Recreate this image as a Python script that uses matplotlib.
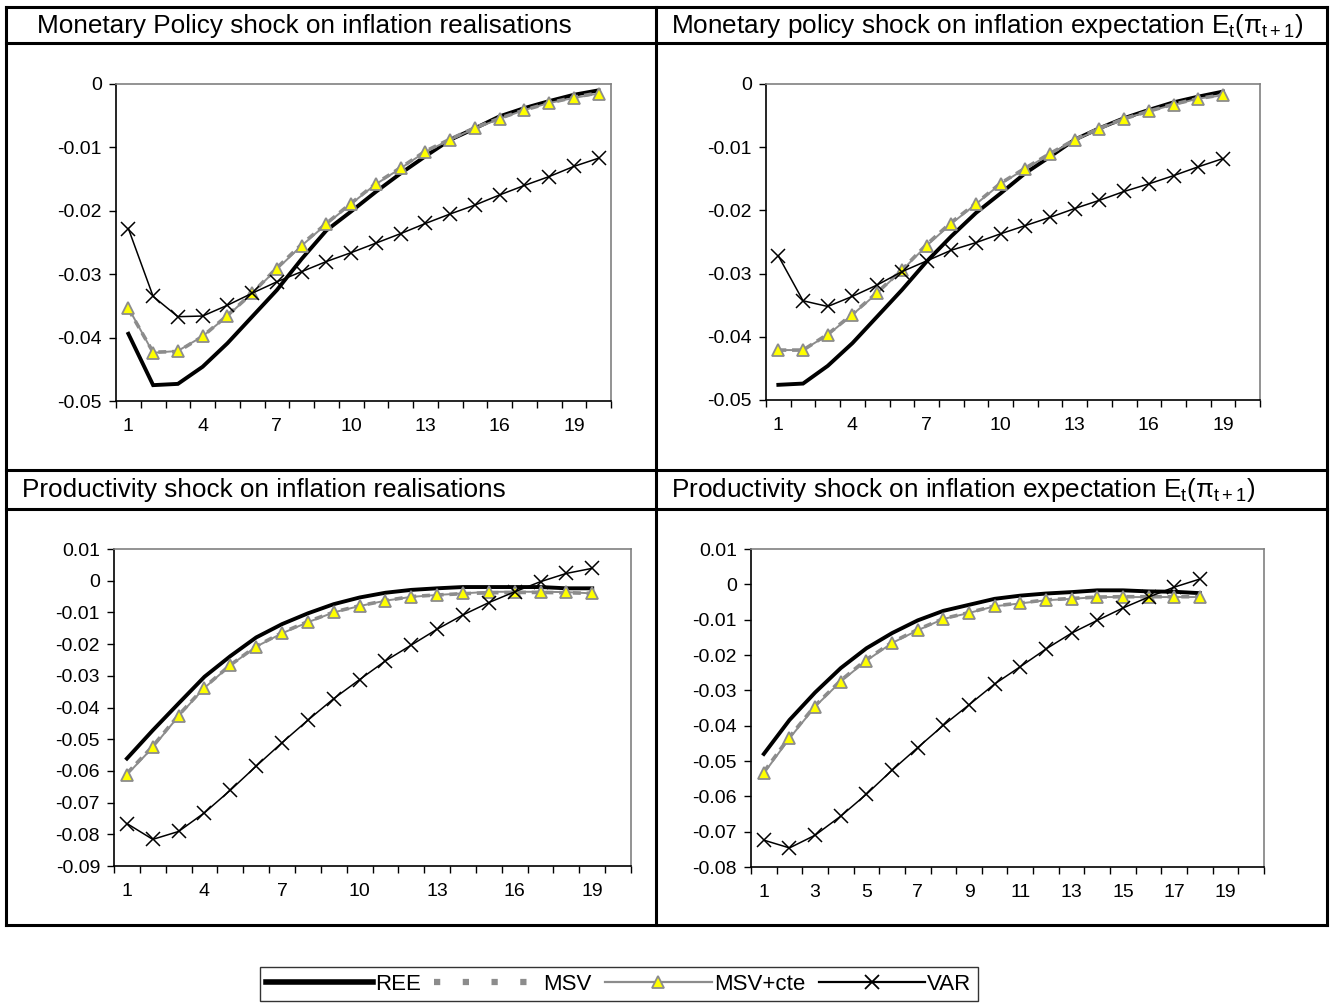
import matplotlib
matplotlib.use("Agg")
import matplotlib.pyplot as plt
from matplotlib.lines import Line2D

plt.rcParams['font.family'] = ['Liberation Sans', 'DejaVu Sans']
plt.rcParams['mathtext.fontset'] = 'custom'
plt.rcParams['mathtext.rm'] = 'Liberation Sans'
plt.rcParams['mathtext.it'] = 'Liberation Sans:italic'

# monetary policy shock, inflation realisations (20 periods)
mp_real_ree = [-0.0394, -0.0475, -0.0473, -0.0446, -0.0409, -0.0367, -0.0325, -0.0276, -0.0231, -0.0201,
               -0.0170, -0.0141, -0.0114, -0.0088, -0.0070, -0.0051, -0.0038, -0.0027, -0.0017, -0.0010]
mp_real_msv = [-0.0355, -0.0423, -0.0422, -0.0398, -0.0365, -0.0330, -0.0290, -0.0253, -0.0220, -0.0188,
               -0.0157, -0.0132, -0.0106, -0.0087, -0.0069, -0.0054, -0.0041, -0.0030, -0.0021, -0.0014]
mp_real_cte = [-0.0353, -0.0424, -0.0421, -0.0398, -0.0366, -0.0330, -0.0292, -0.0255, -0.0221, -0.0189,
               -0.0158, -0.0133, -0.0107, -0.0088, -0.0070, -0.0055, -0.0041, -0.0030, -0.0022, -0.0015]
mp_real_var = [-0.0228, -0.0335, -0.0367, -0.0366, -0.0349, -0.0330, -0.0312, -0.0296, -0.0280, -0.0266,
               -0.0251, -0.0236, -0.0220, -0.0205, -0.0191, -0.0175, -0.0160, -0.0146, -0.0130, -0.0117]

# monetary policy shock, inflation expectation (19 periods)
mp_exp_ree = [-0.0476, -0.0474, -0.0446, -0.0410, -0.0368, -0.0326, -0.0281, -0.0241, -0.0204, -0.0173,
              -0.0141, -0.0115, -0.0088, -0.0070, -0.0054, -0.0041, -0.0029, -0.0020, -0.0012]
mp_exp_msv = [-0.0421, -0.0421, -0.0396, -0.0364, -0.0330, -0.0294, -0.0254, -0.0219, -0.0189, -0.0157,
              -0.0133, -0.0110, -0.0088, -0.0070, -0.0055, -0.0043, -0.0032, -0.0023, -0.0017]
mp_exp_cte = [-0.0421, -0.0421, -0.0397, -0.0365, -0.0331, -0.0295, -0.0256, -0.0221, -0.0190, -0.0158,
              -0.0134, -0.0111, -0.0089, -0.0071, -0.0055, -0.0043, -0.0033, -0.0023, -0.0018]
mp_exp_var = [-0.0272, -0.0343, -0.0352, -0.0336, -0.0318, -0.0297, -0.0280, -0.0263, -0.0251, -0.0237,
              -0.0224, -0.0211, -0.0197, -0.0184, -0.0170, -0.0158, -0.0145, -0.0131, -0.0118]

# productivity shock, inflation realisations (19 periods)
pr_real_ree = [-0.0561, -0.0472, -0.0387, -0.0303, -0.0238, -0.0179, -0.0137, -0.0103, -0.0074, -0.0053,
               -0.0038, -0.0029, -0.0024, -0.0020, -0.0020, -0.0020, -0.0020, -0.0024, -0.0024]
pr_real_msv = [-0.0608, -0.0522, -0.0424, -0.0336, -0.0266, -0.0207, -0.0164, -0.0129, -0.0099, -0.0079,
               -0.0063, -0.0050, -0.0045, -0.0041, -0.0038, -0.0037, -0.0037, -0.0038, -0.0040]
pr_real_cte = [-0.0612, -0.0526, -0.0427, -0.0338, -0.0267, -0.0208, -0.0166, -0.0131, -0.0100, -0.0080,
               -0.0063, -0.0051, -0.0045, -0.0040, -0.0035, -0.0035, -0.0035, -0.0036, -0.0040]
pr_real_var = [-0.0766, -0.0816, -0.0791, -0.0732, -0.0661, -0.0585, -0.0511, -0.0440, -0.0372, -0.0312,
               -0.0253, -0.0203, -0.0153, -0.0108, -0.0069, -0.0035, -0.0003, 0.0023, 0.0039]

# productivity shock, inflation expectation (18 periods)
pr_exp_ree = [-0.0480, -0.0384, -0.0306, -0.0237, -0.0181, -0.0138, -0.0102, -0.0075, -0.0058, -0.0041,
              -0.0032, -0.0026, -0.0022, -0.0017, -0.0017, -0.0020, -0.0021, -0.0025]
pr_exp_msv = [-0.0531, -0.0432, -0.0343, -0.0272, -0.0213, -0.0164, -0.0128, -0.0097, -0.0080, -0.0061,
              -0.0053, -0.0044, -0.0040, -0.0036, -0.0035, -0.0035, -0.0035, -0.0035]
pr_exp_cte = [-0.0535, -0.0436, -0.0346, -0.0275, -0.0216, -0.0166, -0.0130, -0.0098, -0.0081, -0.0062,
              -0.0054, -0.0045, -0.0041, -0.0036, -0.0036, -0.0036, -0.0036, -0.0036]
pr_exp_var = [-0.0724, -0.0746, -0.0710, -0.0656, -0.0594, -0.0526, -0.0462, -0.0399, -0.0341, -0.0282,
              -0.0233, -0.0183, -0.0138, -0.0102, -0.0067, -0.0036, -0.0008, 0.0015]

titles = ["Monetary Policy shock on inflation realisations",
          r"Monetary policy shock on inflation expectation E$_{\mathrm{t}}$($\mathrm{\pi}_{\mathrm{t+1}}$)",
          "Productivity shock on inflation realisations",
          r"Productivity shock on inflation expectation E$_{\mathrm{t}}$($\mathrm{\pi}_{\mathrm{t+1}}$)"]
labels = ["REE", "MSV", "MSV+cte", "VAR"]

W, H = 1333, 1005
fig = plt.figure(figsize=(W / 100, H / 100), dpi=100)

def fx(x):
    return x / W

def fy(y):
    return 1 - y / H

# table grid
for x0, y0, x1, y1 in [(6, 7, 1327, 7), (6, 925, 1327, 925), (6, 7, 6, 925), (1327, 7, 1327, 925),
                       (656, 7, 656, 925), (6, 43, 1327, 43), (6, 470, 1327, 470), (6, 509, 1327, 509)]:
    fig.add_artist(Line2D([fx(x0), fx(x1)], [fy(y0), fy(y1)], color='black', lw=2.2,
                          solid_capstyle='projecting'))

tsize = 18.8
fig.text(fx(37), fy(26), titles[0], fontsize=tsize, va='center', ha='left')
fig.text(fx(671), fy(26), titles[1], fontsize=tsize, va='center', ha='left')
fig.text(fx(22), fy(490), titles[2], fontsize=tsize, va='center', ha='left')
fig.text(fx(671), fy(490), titles[3], fontsize=tsize, va='center', ha='left')

panels = [
    ((116, 84, 611, 401), [mp_real_ree, mp_real_msv, mp_real_cte, mp_real_var], (-0.05, 0), 0.01, 3),
    ((766, 84, 1260, 400), [mp_exp_ree, mp_exp_msv, mp_exp_cte, mp_exp_var], (-0.05, 0), 0.01, 3),
    ((114, 549, 631, 866), [pr_real_ree, pr_real_msv, pr_real_cte, pr_real_var], (-0.09, 0.01), 0.01, 3),
    ((751, 549, 1264, 867), [pr_exp_ree, pr_exp_msv, pr_exp_cte, pr_exp_var], (-0.08, 0.01), 0.01, 2),
]

def ylab(v):
    if abs(v) < 1e-9:
        return "0"
    return ("%.2f" % v)

for (x0, y0, x1, y1), series, ylim, ystep, xstep in panels:
    ax = fig.add_axes([fx(x0), fy(y1), fx(x1 - x0), (y1 - y0) / H])
    ree, msv, cte, var = series
    xs = list(range(1, len(ree) + 1))
    ax.plot(xs, ree, color='black', lw=2.8, solid_joinstyle='miter')
    ax.plot(xs, msv, color='#8c8c8c', lw=2.6, dashes=(2.2, 1.6))
    ax.plot(xs, cte, color='#8c8c8c', lw=1.4, marker='^', markersize=8.5,
            markerfacecolor='#ffff00', markeredgecolor='#8c8c8c', markeredgewidth=1.3)
    ax.plot(xs, var, color='black', lw=1.1, marker='x', markersize=9.5, markeredgewidth=1.1)
    ax.set_xlim(0.5, 20.5)
    ax.set_ylim(*ylim)
    n = int(round((ylim[1] - ylim[0]) / ystep))
    yt = [ylim[0] + i * ystep for i in range(n + 1)]
    ax.set_yticks(yt)
    ax.set_yticklabels([ylab(v) for v in yt])
    xt = list(range(1, 21, xstep))
    ax.set_xticks(xt)
    ax.set_xticklabels([str(v) for v in xt])
    ax.set_xticks([i + 0.5 for i in range(0, 21)], minor=True)
    ax.tick_params(axis='x', which='major', length=0, pad=12, labelsize=14)
    ax.tick_params(axis='x', which='minor', length=5, direction='out', width=1)
    ax.tick_params(axis='y', which='major', length=5, direction='out', width=1, pad=5, labelsize=14)
    for s in ['top', 'right']:
        ax.spines[s].set_color('#808080')
        ax.spines[s].set_linewidth(1.2)
    for s in ['left', 'bottom']:
        ax.spines[s].set_color('black')
        ax.spines[s].set_linewidth(1.2)

handles = [
    Line2D([], [], color='black', lw=4),
    Line2D([], [], color='#8c8c8c', lw=4.5, dashes=(1.0, 3.6)),
    Line2D([], [], color='#8c8c8c', lw=1.6, marker='^', markersize=8.5,
           markerfacecolor='#ffff00', markeredgecolor='#8c8c8c', markeredgewidth=1.3),
    Line2D([], [], color='black', lw=1.6, marker='x', markersize=10, markeredgewidth=1.3),
]
leg = fig.legend(handles, labels, loc='center', bbox_to_anchor=(fx(619), fy(984)), ncol=4,
                 fontsize=16, frameon=True, fancybox=False, edgecolor='black', handlelength=4.8,
                 handletextpad=0.1, columnspacing=0.6, borderpad=0.3, borderaxespad=0)
leg.get_frame().set_linewidth(1.0)

fig.savefig("out.png", dpi=100)
